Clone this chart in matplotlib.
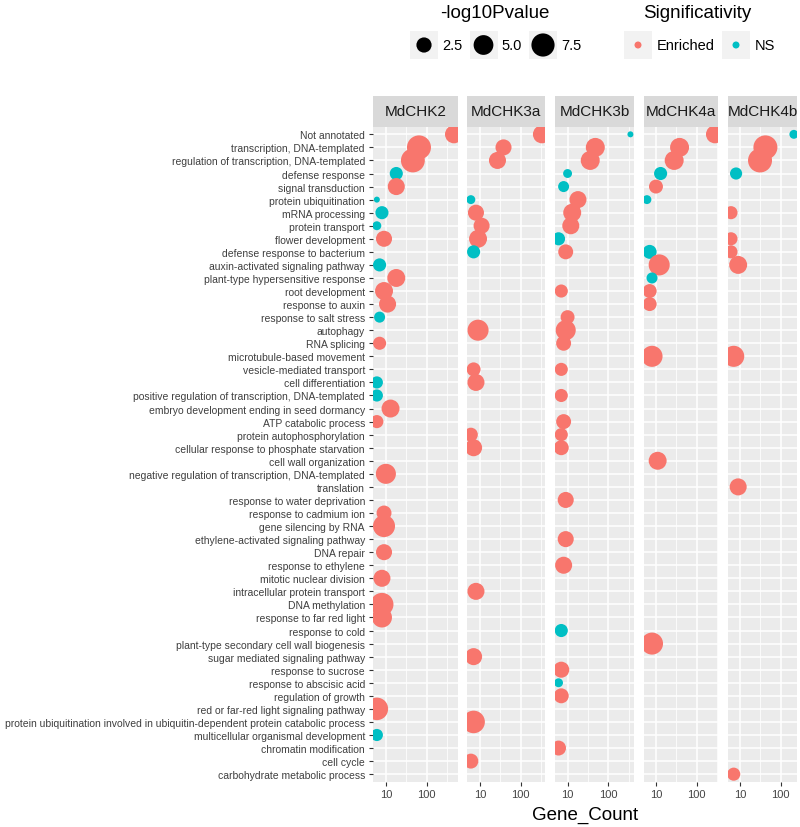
import numpy as np
import matplotlib
matplotlib.use("Agg")
import matplotlib.pyplot as plt
from matplotlib.patches import Rectangle
from matplotlib.ticker import FixedLocator, NullFormatter

plt.rcParams['font.family'] = ['Liberation Sans', 'DejaVu Sans']

terms = [
    "Not annotated", "transcription, DNA-templated",
    "regulation of transcription, DNA-templated", "defense response",
    "signal transduction", "protein ubiquitination", "mRNA processing",
    "protein transport", "flower development", "defense response to bacterium",
    "auxin-activated signaling pathway", "plant-type hypersensitive response",
    "root development", "response to auxin", "response to salt stress",
    "autophagy", "RNA splicing", "microtubule-based movement",
    "vesicle-mediated transport", "cell differentiation",
    "positive regulation of transcription, DNA-templated",
    "embryo development ending in seed dormancy", "ATP catabolic process",
    "protein autophosphorylation", "cellular response to phosphate starvation",
    "cell wall organization", "negative regulation of transcription, DNA-templated",
    "translation", "response to water deprivation", "response to cadmium ion",
    "gene silencing by RNA", "ethylene-activated signaling pathway",
    "DNA repair", "response to ethylene", "mitotic nuclear division",
    "intracellular protein transport", "DNA methylation",
    "response to far red light", "response to cold",
    "plant-type secondary cell wall biogenesis", "sugar mediated signaling pathway",
    "response to sucrose", "response to abscisic acid", "regulation of growth",
    "red or far-red light signaling pathway",
    "protein ubiquitination involved in ubiquitin-dependent protein catabolic process",
    "multicellular organismal development", "chromatin modification",
    "cell cycle", "carbohydrate metabolic process",
]

samples = ["MdCHK2", "MdCHK3a", "MdCHK3b", "MdCHK4a", "MdCHK4b"]

# (term index, Gene_Count, -log10Pvalue, significativity)
chk2 = [(0, 470, 3.9, 'E'), (1, 65, 8.2, 'E'), (2, 46, 8.1, 'E'), (3, 18, 1.7, 'NS'),
        (4, 18, 3.4, 'E'), (5, 6, 0.5, 'NS'), (6, 8, 1.7, 'NS'), (7, 6, 0.7, 'NS'),
        (8, 9, 2.9, 'E'), (10, 7, 1.7, 'NS'), (11, 18, 3.9, 'E'), (12, 9, 3.9, 'E'),
        (13, 11, 3.4, 'E'), (14, 7, 1.1, 'NS'), (16, 7, 1.7, 'E'), (19, 6, 1.4, 'NS'),
        (20, 6, 1.4, 'NS'), (21, 13, 3.9, 'E'), (22, 6, 1.7, 'E'), (26, 10, 5.2, 'E'),
        (29, 9, 2.4, 'E'), (30, 9, 6.6, 'E'), (32, 9, 2.9, 'E'), (34, 8, 3.4, 'E'),
        (36, 8, 7.4, 'E'), (37, 8, 5.2, 'E'), (44, 6, 7.0, 'E'), (46, 6, 1.4, 'NS')]

chk3a = [(0, 333, 3.9, 'E'), (1, 38, 2.9, 'E'), (2, 27, 3.4, 'E'), (5, 6, 0.7, 'NS'),
         (6, 8, 2.9, 'E'), (7, 11, 2.9, 'E'), (8, 9, 3.9, 'E'), (9, 7, 1.7, 'NS'),
         (15, 9, 5.9, 'E'), (18, 7, 2.0, 'E'), (19, 8, 3.4, 'E'), (23, 6, 2.0, 'E'),
         (24, 7, 3.4, 'E'), (35, 8, 3.4, 'E'), (40, 7, 3.4, 'E'), (45, 7, 7.0, 'E'),
         (48, 6, 2.4, 'E')]

chk3b = [(0, 350, 0.5, 'NS'), (1, 48, 4.5, 'E'), (2, 36, 4.5, 'E'), (3, 10, 0.7, 'NS'),
         (4, 8, 1.1, 'NS'), (5, 18, 3.4, 'E'), (6, 13, 3.9, 'E'), (7, 12, 3.4, 'E'),
         (8, 6, 1.7, 'NS'), (9, 9, 2.4, 'E'), (12, 7, 1.7, 'E'), (14, 10, 2.0, 'E'),
         (15, 9, 5.2, 'E'), (16, 8, 2.4, 'E'), (18, 7, 1.7, 'E'), (20, 7, 1.7, 'E'),
         (22, 8, 2.4, 'E'), (23, 7, 1.7, 'E'), (24, 7, 2.4, 'E'), (28, 9, 2.9, 'E'),
         (31, 9, 2.9, 'E'), (33, 8, 3.4, 'E'), (38, 7, 1.7, 'NS'), (41, 7, 2.9, 'E'),
         (42, 6, 0.7, 'NS'), (43, 7, 2.4, 'E'), (47, 6, 2.4, 'E')]

chk4a = [(0, 281, 3.9, 'E'), (1, 38, 4.5, 'E'), (2, 28, 4.5, 'E'), (3, 13, 1.7, 'NS'),
         (4, 10, 2.0, 'E'), (5, 6, 0.7, 'NS'), (9, 7, 2.0, 'NS'), (10, 12, 5.9, 'E'),
         (11, 8, 1.1, 'NS'), (12, 7, 2.0, 'E'), (13, 7, 2.0, 'E'), (17, 8, 5.9, 'E'),
         (25, 11, 3.9, 'E'), (39, 8, 6.6, 'E')]

chk4b = [(0, 210, 0.7, 'NS'), (1, 42, 8.2, 'E'), (2, 31, 8.2, 'E'), (3, 8, 1.4, 'NS'),
         (6, 6, 1.7, 'E'), (8, 6, 1.7, 'E'), (9, 6, 1.7, 'E'), (10, 9, 3.9, 'E'),
         (17, 7, 5.9, 'E'), (27, 9, 3.4, 'E'), (49, 7, 1.7, 'E')]

panel_data = [chk2, chk3a, chk3b, chk4a, chk4b]

size_breaks = [2.5, 5.0, 7.5]
sig_levels = ["Enriched", "NS"]
sig_colors = {'E': '#F8766D', 'NS': '#00BFC4'}

W, H = 800, 828
fig = plt.figure(figsize=(W / 100, H / 100), dpi=100, facecolor='white')

all_logp = np.array([p[2] for d in panel_data for p in d])
vmin, vmax = all_logp.min(), all_logp.max()


def dot_size(v):
    # ggplot-like area scale: diameter 6..24 px, returned as points^2
    d = 6 + 18 * np.sqrt((np.asarray(v) - vmin) / (vmax - vmin))
    return (d * 0.72) ** 2


def px_axes(x, y, w, h, **kw):
    return fig.add_axes([x / W, 1 - (y + h) / H, w / W, h / H], **kw)


# free x scales + free space, like facet_grid(space="free_x")
ranges = []
for d in panel_data:
    lc = np.log10([p[1] for p in d])
    pad = 0.05 * (lc.max() - lc.min())
    ranges.append((lc.min() - pad, lc.max() + pad))

x_start, x_end, gap = 373, 797, 9.5
top, bottom = 127.5, 783
unit = (x_end - x_start - gap * (len(samples) - 1)) / sum(hi - lo for lo, hi in ranges)

x = x_start
for i, (name, d, (lo, hi)) in enumerate(zip(samples, panel_data, ranges)):
    w = (hi - lo) * unit
    ax = px_axes(x, top, w, bottom - top, facecolor='#EBEBEB')
    ax.set_xscale('log')
    ax.set_xlim(10 ** lo, 10 ** hi)
    ax.set_ylim(len(terms) - 0.4, -0.6)
    ax.set_axisbelow(True)

    ax.set_xticks([10, 100], labels=['10', '100'])
    ax.xaxis.set_minor_locator(FixedLocator([10 ** 0.5, 10 ** 1.5, 10 ** 2.5]))
    ax.xaxis.set_minor_formatter(NullFormatter())
    ax.set_yticks(range(len(terms)))
    ax.grid(True, which='major', color='white', lw=1.1)
    ax.grid(True, which='minor', axis='x', color='white', lw=0.55)
    ax.tick_params(axis='x', which='major', length=3, width=0.8, color='#333333',
                   labelsize=8, labelcolor='#444444', pad=2)
    ax.tick_params(axis='x', which='minor', length=0)
    if i == 0:
        ax.set_yticklabels(terms)
        ax.tick_params(axis='y', length=3, width=0.8, color='#333333',
                       labelsize=7.5, labelcolor='#3F3F3F', pad=2.8)
    else:
        ax.tick_params(axis='y', left=False, labelleft=False)
    for sp in ax.spines.values():
        sp.set_visible(False)

    ax.scatter([p[1] for p in d], [p[0] for p in d],
               s=dot_size([p[2] for p in d]),
               c=[sig_colors[p[3]] for p in d], edgecolors='none', zorder=3)

    # facet strip
    st = px_axes(x, 97, w, top - 97, facecolor='#D9D9D9')
    st.set_xticks([])
    st.set_yticks([])
    for sp in st.spines.values():
        sp.set_visible(False)
    st.text(0.5, 0.5, name, ha='center', va='center', fontsize=11,
            color='#1A1A1A', transform=st.transAxes)

    x += w + gap

fig.text((x_start + x_end) / 2 / W, 1 - 815 / H, "Gene_Count",
         ha='center', va='center', fontsize=13.5)

# legends on top, drawn in pixel space
lg = fig.add_axes([0, 0, 1, 1])
lg.set_xlim(0, W)
lg.set_ylim(H, 0)
lg.axis('off')

lg.text(495, 13, "-log10Pvalue", ha='center', va='center', fontsize=13.5)
for k, b in enumerate(size_breaks):
    kx = 410 + k * 59.5
    lg.add_patch(Rectangle((kx, 32), 28, 28, color='#F2F2F2', lw=0))
    lg.scatter([kx + 14], [46], s=dot_size(b), color='black', edgecolors='none')
    lg.text(kx + 32, 46, f"{b:.1f}", ha='left', va='center', fontsize=10.5)

lg.text(697, 13, "Significativity", ha='center', va='center', fontsize=13.5)
for kx, lab, key in zip([624, 722], sig_levels, ['E', 'NS']):
    lg.add_patch(Rectangle((kx, 32), 28, 28, color='#F2F2F2', lw=0))
    lg.scatter([kx + 14], [46], s=(7 * 0.72) ** 2, color=sig_colors[key],
               edgecolors='none')
    lg.text(kx + 33, 46, lab, ha='left', va='center', fontsize=10.5)

fig.savefig("out.png", dpi=100, facecolor='white')
